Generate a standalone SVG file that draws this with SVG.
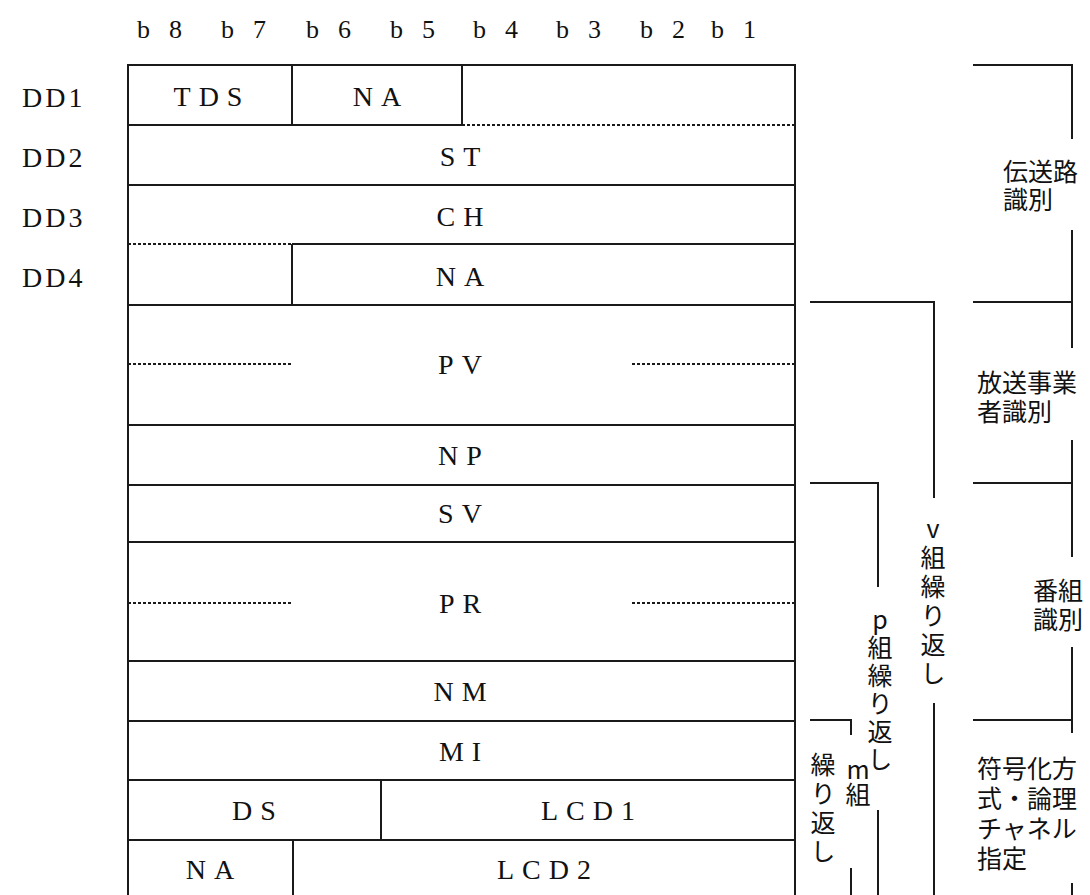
<svg xmlns="http://www.w3.org/2000/svg" width="1090" height="895" viewBox="0 0 1090 895">
<style>
.ln{stroke:#1a1a1a;stroke-width:2;fill:none}
.dt{stroke:#1a1a1a;stroke-width:2;fill:none;stroke-dasharray:3 2}
.lat{font-family:"Liberation Serif",serif;font-size:28px;fill:#111;dominant-baseline:central;text-anchor:middle;letter-spacing:8px}
.hdr{font-family:"Liberation Serif",serif;font-size:26px;fill:#111}
.jp{font-family:"Noto Sans CJK JP",sans-serif;font-size:25px;fill:#111;dominant-baseline:central}
.vt{font-family:"Noto Sans CJK JP",sans-serif;font-size:25px;fill:#111;writing-mode:vertical-rl;text-orientation:upright}
</style>
<rect width="1090" height="895" fill="#fff"/>
<g id="bit-header" class="hdr">
<text x="137" y="38">b</text><text x="169" y="38">8</text>
<text x="221" y="38">b</text><text x="253" y="38">7</text>
<text x="306" y="38">b</text><text x="338" y="38">6</text>
<text x="390" y="38">b</text><text x="422" y="38">5</text>
<text x="473" y="38">b</text><text x="505" y="38">4</text>
<text x="556" y="38">b</text><text x="588" y="38">3</text>
<text x="640" y="38">b</text><text x="672" y="38">2</text>
<text x="711" y="38">b</text><text x="743" y="38">1</text>
</g>
<g id="row-labels" class="lat" style="text-anchor:start;letter-spacing:3px">
<text x="22" y="97">DD1</text>
<text x="22" y="157">DD2</text>
<text x="22" y="217">DD3</text>
<text x="22" y="277">DD4</text>
</g>
<g id="table">
<path class="ln" d="M128,895 V65 H795 V895"/>
<path class="ln" d="M128,125 H462 M292,65 V125 M462,65 V125"/>
<path class="dt" d="M462,125 H795"/>
<path class="ln" d="M128,185 H795"/>
<path class="dt" d="M128,244 H292"/>
<path class="ln" d="M292,244 H795 M292,244 V305 M128,305 H795"/>
<path class="dt" d="M128,364 H292 M632,364 H795"/>
<path class="ln" d="M128,425 H795 M128,485 H795 M128,542 H795"/>
<path class="dt" d="M128,603 H292 M632,603 H795"/>
<path class="ln" d="M128,661 H795 M128,721 H795 M128,780 H795 M128,840 H795 M381,780 V840 M293,840 V895"/>
</g>
<g id="fields" class="lat">
<text x="212" y="96">TDS</text>
<text x="381" y="96">NA</text>
<text x="464" y="156">ST</text>
<text x="464" y="216">CH</text>
<text x="464" y="276">NA</text>
<text x="464" y="364">PV</text>
<text x="464" y="455">NP</text>
<text x="464" y="513">SV</text>
<text x="464" y="603">PR</text>
<text x="464" y="691">NM</text>
<text x="464" y="751">MI</text>
<text x="258" y="810">DS</text>
<text x="592" y="810">LCD1</text>
<text x="214" y="869">NA</text>
<text x="548" y="869">LCD2</text>
</g>
<g id="connectors">
<path class="ln" d="M973,65 H1072 V139"/>
<path class="ln" d="M1072,230 V348 M973,302 H1072"/>
<path class="ln" d="M1072,440 V557 M973,483 H1072"/>
<path class="ln" d="M1072,647 V733 M973,720 H1072"/>
<path class="ln" d="M1072,883 V895"/>
<path class="ln" d="M810,302 H934 V498 M934,703 V895"/>
<path class="ln" d="M810,483 H878 V587 M878,810 V895"/>
<path class="ln" d="M810,720 H851 V735 M851,868 V895"/>
</g>
<g id="label-transmission">
<text class="jp"><tspan x="1003" y="170">伝送路</tspan><tspan x="1003" y="198">識別</tspan></text>
</g>
<g id="label-broadcaster">
<text class="jp"><tspan x="977" y="381">放送事業</tspan><tspan x="977" y="410">者識別</tspan></text>
</g>
<g id="label-program">
<text class="jp"><tspan x="1033" y="589">番組</tspan><tspan x="1033" y="618">識別</tspan></text>
</g>
<g id="label-coding">
<text class="jp"><tspan x="977" y="767">符号化方</tspan><tspan x="977" y="797">式・論理</tspan><tspan x="977" y="827">チャネル</tspan><tspan x="977" y="857">指定</tspan></text>
</g>
<g id="label-v-repeat">
<text class="vt" x="933" y="516" style="letter-spacing:4px">v組繰り返し</text>
</g>
<g id="label-p-repeat">
<text class="vt" x="880" y="607" style="letter-spacing:3px">p組繰り返し</text>
</g>
<g id="label-m-repeat">
<text class="vt" x="858" y="757">m組</text>
<text class="vt" x="823" y="752" style="letter-spacing:4px">繰り返し</text>
</g>
</svg>
